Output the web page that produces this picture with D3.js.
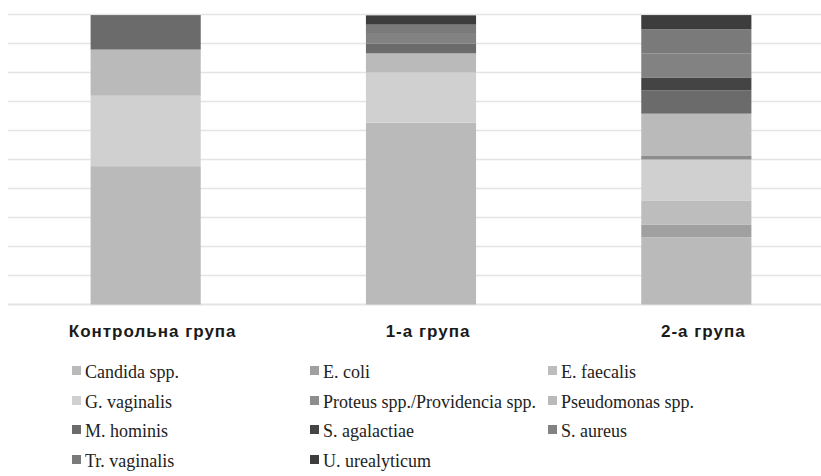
<!DOCTYPE html>
<html><head><meta charset="utf-8">
<script src="https://cdn.jsdelivr.net/npm/d3@7"></script>
<style>body{margin:0;background:#fff}svg{display:block}</style>
</head><body><svg id="c" width="821" height="476"></svg>
<script>
const categories = ["Контрольна група", "1-а група", "2-а група"];
const seriesNames = ["Candida spp.", "E. coli", "E. faecalis", "G. vaginalis", "Proteus spp./Providencia spp.", "Pseudomonas spp.", "M. hominis", "S. agalactiae", "S. aureus", "Tr. vaginalis", "U. urealyticum"];
const candida      = [47.7, 62.7, 23.2];
const eColi        = [0, 0, 4.4];
const eFaecalis    = [0, 0, 8.3];
const gVaginalis   = [24.3, 17.3, 14.1];
const proteus      = [0, 0, 1.4];
const pseudomonas  = [15.9, 6.6, 14.4];
const mHominis     = [11.9, 3.3, 8.0];
const sAgalactiae  = [0, 0, 4.5];
const sAureus      = [0, 3.4, 8.2];
const trVaginalis  = [0, 3.2, 8.4];
const uUrealyticum = [0, 3.2, 4.9];
const yTicks = [0,10,20,30,40,50,60,70,80,90,100];
const colors = ["#bababa","#a0a0a0","#bdbdbd","#d0d0d0","#8d8d8d","#bababa","#6b6b6b","#444444","#828282","#7a7a7a","#3d3d3d"];

const seriesValues = [candida,eColi,eFaecalis,gVaginalis,proteus,pseudomonas,mHominis,sAgalactiae,sAureus,trVaginalis,uUrealyticum];
const rows = categories.map((c,i)=>{const r={cat:c}; seriesNames.forEach((s,j)=>r[s]=seriesValues[j][i]); return r;});
const stack = d3.stack().keys(seriesNames)(rows);

const svg = d3.select("#c");
const x = d3.scaleBand().domain(categories).range([8, 834]).paddingInner(0.6).paddingOuter(0.3);
const y = d3.scaleLinear().domain([0,100]).range([304.5, 14.5]);

svg.append("g").selectAll("line").data(yTicks).join("line")
  .attr("x1", 8).attr("x2", 834)
  .attr("y1", d=>y(d)).attr("y2", d=>y(d))
  .attr("stroke", "#e4e4e4").attr("stroke-width", d=>d===0?2:1.3);

const color = d3.scaleOrdinal().domain(seriesNames).range(colors);
svg.append("g").selectAll("g").data(stack).join("g")
  .attr("fill", d=>color(d.key))
  .selectAll("rect").data(d=>d).join("rect")
  .attr("x", d=>x(d.data.cat))
  .attr("width", x.bandwidth())
  .attr("y", d=>y(d[1]))
  .attr("height", d=>Math.max(0, y(d[0])-y(d[1])));

svg.append("g").selectAll("text").data(categories).join("text")
  .attr("x", d=>x(d)+x.bandwidth()/2+7)
  .attr("y", 337)
  .attr("text-anchor","middle")
  .attr("font-family","'Liberation Sans', Arial, sans-serif")
  .attr("font-weight","bold")
  .attr("font-size", 17)
  .attr("letter-spacing", 1)
  .attr("fill","#1a1a1a")
  .text(d=>d);

const colX = [72, 310, 548];
const rowY = [378, 408, 437, 467];
const lg = svg.append("g").selectAll("g").data(seriesNames).join("g")
  .attr("transform", (d,i)=>`translate(${colX[i%3]},${rowY[Math.floor(i/3)]})`);
lg.append("rect").attr("x",0).attr("y",-12).attr("width",9).attr("height",9).attr("fill", d=>color(d));
lg.append("text").attr("x",13).attr("y",0)
  .attr("font-family","'Liberation Serif', 'Times New Roman', serif")
  .attr("font-size",18).attr("fill","#222").text(d=>d);
</script></body></html>
